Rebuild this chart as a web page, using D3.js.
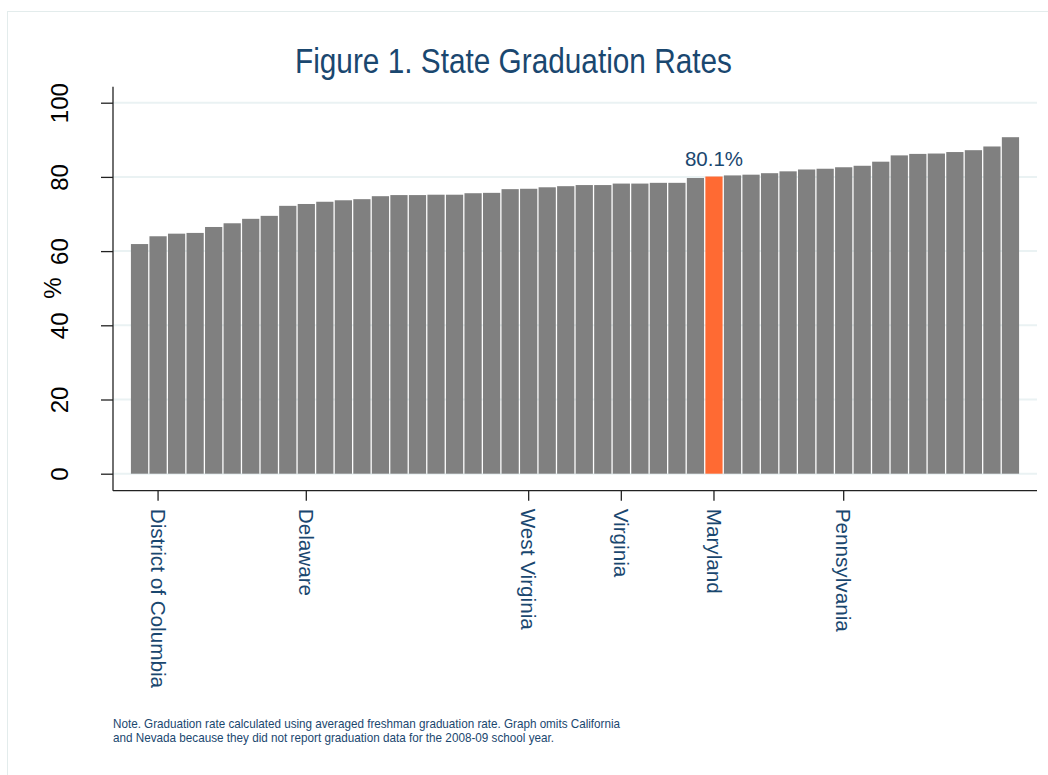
<html>
<head>
<script src="https://d3js.org/d3.v7.min.js"></script>
<style>
  body { margin: 0; background: #fff; }
  text { font-family: "Liberation Sans", Arial, sans-serif; }
</style>
</head>
<body>
<script>
// graduation rate per state, sorted low -> high (48 bars)
var rates = [61.9, 64.0, 64.7, 64.9, 66.5, 67.5, 68.7, 69.5, 72.2, 72.7,
             73.3, 73.7, 74.0, 74.8, 75.1, 75.1, 75.2, 75.2, 75.6, 75.7,
             76.7, 76.8, 77.2, 77.5, 77.8, 77.8, 78.2, 78.2, 78.4, 78.4,
             79.7, 80.1, 80.4, 80.6, 81.0, 81.5, 82.0, 82.2, 82.6, 83.0,
             84.1, 85.8, 86.2, 86.3, 86.7, 87.2, 88.2, 90.7];
var ranks = rates.map((d, i) => i + 1);

// only a few bars carry a label on the x axis
var labelRanks = [2, 10, 22, 27, 32, 39];
var labelNames = ["District of Columbia", "Delaware", "West Virginia", "Virginia", "Maryland", "Pennsylvania"];

var highlightRank = 32;   // Maryland
var yTicks = [0, 20, 40, 60, 80, 100];

var title = "Figure 1. State Graduation Rates";
var noteLines = ["Note. Graduation rate calculated using averaged freshman graduation rate. Graph omits California",
                 "and Nevada because they did not report graduation data for the 2008-09 school year."];

var navy = "#1a476f";

var svg = d3.select("body").append("svg")
    .attr("width", 1048)
    .attr("height", 775);

svg.append("rect")
    .attr("x", 0).attr("y", 0)
    .attr("width", 1048).attr("height", 775)
    .style("fill", "#fff");

// faint outer frame
svg.append("rect")
    .attr("x", 7.5).attr("y", 11.5)
    .attr("width", 1100).attr("height", 900)
    .style("fill", "none")
    .style("stroke", "#e3ecec");

var x = d3.scaleBand().domain(ranks)
    .range([113, 1037])
    .paddingInner(0.07)
    .paddingOuter(0.967);

var y = d3.scaleLinear().domain([0, 100])
    .range([473.7, 102.7]);

var xAxisY = y(0) + 17;

// gridlines
svg.append("g").selectAll("line").data(yTicks).enter()
    .append("line")
    .attr("x1", 113).attr("x2", 1037)
    .attr("y1", d => y(d)).attr("y2", d => y(d))
    .style("stroke", "#eaf2f3")
    .style("stroke-width", 2);

// bars
svg.append("g").selectAll("rect").data(rates).enter()
    .append("rect")
    .attr("x", (d, i) => x(ranks[i]))
    .attr("y", d => y(d))
    .attr("width", x.bandwidth())
    .attr("height", d => y(0) - y(d))
    .style("fill", (d, i) => ranks[i] == highlightRank ? "#ff6a33" : "#808080");

// value label over Maryland
var hv = rates[highlightRank - 1];
svg.append("text")
    .attr("x", x(highlightRank) + x.bandwidth() / 2)
    .attr("y", y(hv) - 11)
    .attr("text-anchor", "middle")
    .style("font-size", "20.5px")
    .style("fill", navy)
    .text(hv.toFixed(1) + "%");

// y axis
var yAxis = svg.append("g")
    .attr("transform", "translate(113,0)")
    .call(d3.axisLeft(y).tickValues(yTicks).tickSize(12).tickFormat(d3.format("d")));
yAxis.select(".domain").remove();
yAxis.selectAll(".tick line").style("stroke", "#222").style("stroke-width", 1.3);
yAxis.selectAll(".tick text")
    .attr("x", 0).attr("dy", 0)
    .attr("text-anchor", "middle")
    .attr("transform", "translate(-45,0) rotate(-90)")
    .style("font-size", "24px")
    .style("fill", "#000");
yAxis.append("line")
    .attr("x1", 0).attr("x2", 0)
    .attr("y1", y(100) - 16).attr("y2", xAxisY)
    .style("stroke", "#222").style("stroke-width", 1.3);

svg.append("text")
    .attr("transform", "translate(61," + (y(0) + y(100)) / 2 + ") rotate(-90)")
    .attr("text-anchor", "middle")
    .style("font-size", "24px")
    .style("fill", "#000")
    .text("%");

// x axis
var xAxis = svg.append("g")
    .attr("transform", "translate(0," + xAxisY + ")")
    .call(d3.axisBottom(x).tickValues(labelRanks).tickSize(10)
          .tickFormat(d => labelNames[labelRanks.indexOf(d)]));
xAxis.select(".domain").remove();
xAxis.append("line")
    .attr("x1", 113).attr("x2", 1037)
    .style("stroke", "#222").style("stroke-width", 1.3);
xAxis.selectAll(".tick line").style("stroke", "#222").style("stroke-width", 1.3);
xAxis.selectAll(".tick text")
    .attr("x", 18).attr("y", 0).attr("dy", "0.35em")
    .attr("text-anchor", "start")
    .attr("transform", "rotate(90)")
    .style("font-size", "20.7px")
    .style("fill", navy);

// title
svg.append("text")
    .attr("x", 295).attr("y", 73)
    .attr("textLength", 437).attr("lengthAdjust", "spacingAndGlyphs")
    .style("font-size", "35px")
    .style("fill", navy)
    .text(title);

// note
var noteWidths = [507, 441];
svg.append("g").selectAll("text").data(noteLines).enter()
    .append("text")
    .attr("x", 113)
    .attr("y", (d, i) => 728 + i * 14)
    .attr("textLength", (d, i) => noteWidths[i])
    .attr("lengthAdjust", "spacingAndGlyphs")
    .style("font-size", "13.5px")
    .style("fill", navy)
    .text(d => d);
</script>
</body>
</html>
